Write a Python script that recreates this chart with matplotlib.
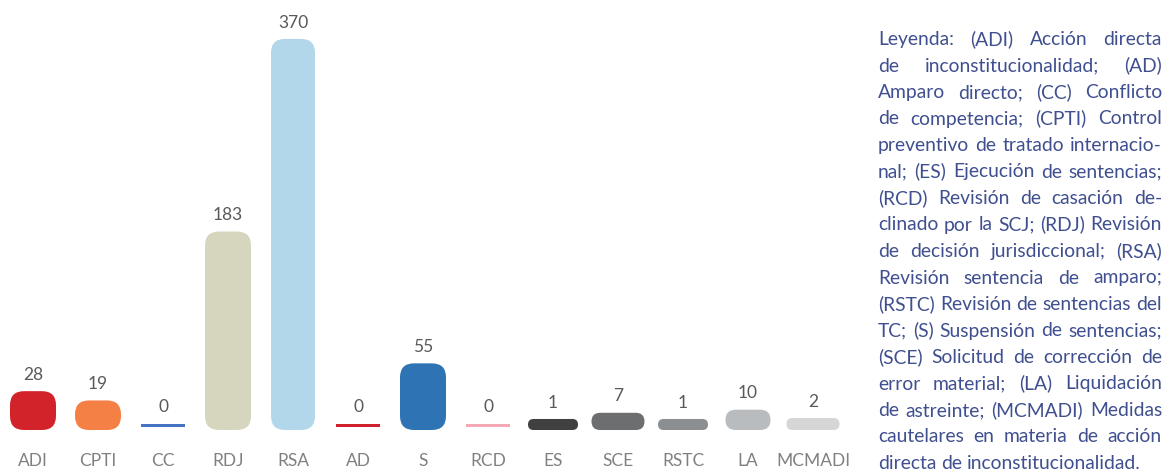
import matplotlib.pyplot as plt
from matplotlib.patches import FancyBboxPatch

# Data
categories = ["ADI", "CPTI", "CC", "RDJ", "RSA", "AD", "S", "RCD", "ES", "SCE", "RSTC", "LA", "MCMADI"]
values = [28, 19, 0, 183, 370, 0, 55, 0, 1, 7, 1, 10, 2]

# Style
colors = ["#d2232a", "#f58045", "#4472c4", "#d6d6bf", "#b3d7ea", "#d0202e", "#2e74b5",
          "#f4a9b4", "#404040", "#6d6e70", "#8c8f91", "#b9bcbf", "#d6d6d6"]
bar_widths_px = [46, 46, 44, 46, 44, 44, 46, 44, 50, 53, 50, 45, 53]

legend_lines = [
    "Leyenda: (ADI) Acción directa",
    "de inconstitucionalidad; (AD)",
    "Amparo directo; (CC) Conflicto",
    "de competencia; (CPTI) Control",
    "preventivo de tratado internacio-",
    "nal; (ES) Ejecución de sentencias;",
    "(RCD) Revisión de casación de-",
    "clinado por la SCJ; (RDJ) Revisión",
    "de decisión jurisdiccional; (RSA)",
    "Revisión sentencia de amparo;",
    "(RSTC) Revisión de sentencias del",
    "TC; (S) Suspensión de sentencias;",
    "(SCE) Solicitud de corrección de",
    "error material; (LA) Liquidación",
    "de astreinte; (MCMADI) Medidas",
    "cautelares en materia de acción",
    "directa de inconstitucionalidad.",
]

FONT = "Lato"
W, H = 1167, 472
fig = plt.figure(figsize=(W / 100, H / 100), dpi=100)

# axes geometry (pixels)
ax_right = 860
ax_h = 445
px_x = 65.0   # pixels per category
px_y = 1.03   # pixels per unit
x0 = 33       # first bar centre
base = 420    # pixel row of value 0 (from top)

ax = fig.add_axes([0, (H - ax_h) / H, ax_right / W, ax_h / H])
ax.set_xlim(-x0 / px_x, (ax_right - x0) / px_x)
ax.set_ylim((base - ax_h) / px_y, base / px_y)
ax.axis("off")

pad = 10 / px_y
for i, (v, c, wpx) in enumerate(zip(values, colors, bar_widths_px)):
    wd = wpx / px_x
    if v == 0:
        ax.bar(i, 3 / px_y, bottom=-6.5 / px_y, width=wd, color=c)
        top = -3.5 / px_y
    else:
        h = v + pad
        r_px = min(14, h * px_y / 2, wpx / 2)
        patch = FancyBboxPatch((i - wd / 2, -pad), wd, h,
                               boxstyle=f"round,pad=0,rounding_size={r_px / px_x}",
                               mutation_aspect=px_x / px_y, fc=c, ec="none")
        ax.add_patch(patch)
        top = v
    ax.annotate(str(v), (i, top), xytext=(0, 6), textcoords="offset points",
                ha="center", va="bottom", fontsize=12.5, color="#595959", family=FONT)
    ax.text(i, (base - 461) / px_y, categories[i], ha="center", va="center",
            fontsize=12.5, color="#808080", family=FONT)

# Justified legend text
renderer = fig.canvas.get_renderer()
left_px, right_px = 878, 1162


def text_width(s, fs):
    t = fig.text(0, 0, s, fontsize=fs, family=FONT)
    wdt = t.get_window_extent(renderer).width
    t.remove()
    return wdt


fs = 12
maxw = max(text_width(line, fs) for line in legend_lines)
fs = fs * (right_px - left_px) / maxw * 0.995
space = text_width("a a", fs) - text_width("aa", fs)

for k, line in enumerate(legend_lines):
    words = line.split()
    widths = [text_width(wd, fs) for wd in words]
    if k < len(legend_lines) - 1 and len(words) > 1:
        gap = (right_px - left_px - sum(widths)) / (len(words) - 1)
    else:
        gap = space
    xpos = left_px
    y = 45 + 26.5 * k
    for wd, ww in zip(words, widths):
        fig.text(xpos / W, (H - y) / H, wd, fontsize=fs, family=FONT,
                 color="#3f4f8f", ha="left", va="baseline")
        xpos += ww + gap

fig.savefig("out.png", dpi=100)
